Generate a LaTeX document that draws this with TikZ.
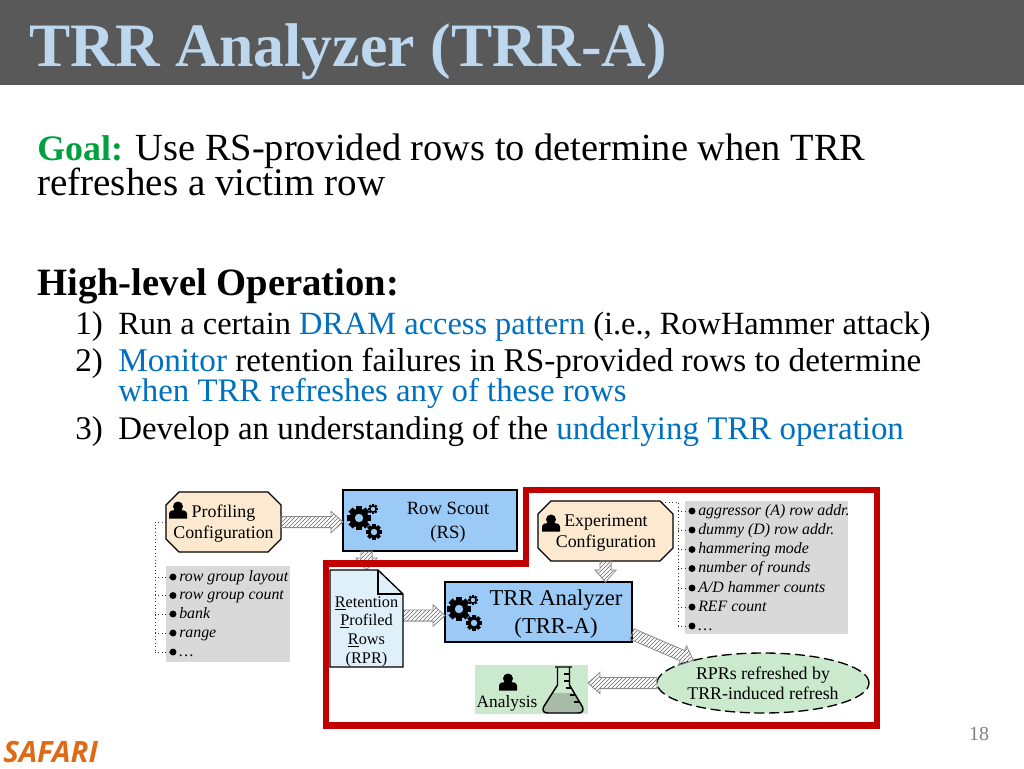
\documentclass[tikz,border=0pt]{standalone}
\usepackage{fontspec}
\setmainfont{Liberation Serif}
\newfontfamily\safarifont{Open Sans}
\usetikzlibrary{calc,patterns,shapes.geometric}
\definecolor{titlebar}{HTML}{595959}
\definecolor{titletext}{HTML}{BDD7EE}
\definecolor{hl}{HTML}{0070C0}
\definecolor{goalgreen}{HTML}{00A03C}
\definecolor{redline}{HTML}{C00000}
\definecolor{peach}{HTML}{FCE9CF}
\definecolor{sky}{HTML}{9CCAF6}
\definecolor{paleblue}{HTML}{DFF0FB}
\definecolor{palegreen}{HTML}{CBE9CC}
\definecolor{listgray}{HTML}{D9D9D9}
\definecolor{orangesaf}{HTML}{DE6A16}
\definecolor{liquid}{HTML}{A8BAA8}
\newcommand\ellip{\ldots}
\tikzset{
  body/.style={anchor=base west,inner sep=0,font=\fontsize{24.8}{28}\selectfont},
  head/.style={anchor=base west,inner sep=0,font=\fontsize{28.8}{30}\selectfont},
  chamf/.style={rectangle,inner sep=0,outer sep=0},
  chamfdraw/.style={draw=black,line width=1pt,fill=peach,line join=round},
  bluebox/.style={rectangle,draw=black,line width=1pt,fill=sky,inner sep=0,outer sep=0},
  listbox/.style={rectangle,fill=listgray,inner sep=0,outer sep=0},
  dot/.style={circle,fill=black,inner sep=0,minimum size=5.2pt},
  lbl/.style={inner sep=0,align=center},
  item/.style={anchor=base west,inner sep=0,font=\fontsize{11.9}{12}\selectfont\itshape},
  hatch/.style={draw=black!45,line width=.6pt,pattern=north east lines,pattern color=black!60},
  dots/.style={dotted,line width=.6pt,black!80}
}
\newcommand\hatcharrow[2]{%
  \coordinate (ta) at (#1);
  \coordinate (tb) at (#2);
  \coordinate (tn) at ($(tb)!9pt!(ta)$);
  \draw[hatch] ($(ta)!4.2pt!90:(tb)$) -- ($(tn)!4.2pt!90:(tb)$) -- ($(tn)!8pt!90:(tb)$) -- (tb)
     -- ($(tn)!8pt!-90:(tb)$) -- ($(tn)!4.2pt!-90:(tb)$) -- ($(ta)!4.2pt!-90:(tb)$) -- cycle;}
\newcommand\chamfer[2]{%
  \draw[chamfdraw] ($(#1.north west)+(#2,0)$) -- ($(#1.north east)+(-#2,0)$) -- ($(#1.north east)+(0,#2)$)
    -- ($(#1.south east)+(0,-#2)$) -- ($(#1.south east)+(-#2,0)$) -- ($(#1.south west)+(#2,0)$)
    -- ($(#1.south west)+(0,-#2)$) -- ($(#1.north west)+(0,#2)$) -- cycle;}
\newcommand\gearicon[5]{\begin{scope}[shift={(#1,#2)}]
  \fill[black] (0,0) circle (#3*.78);
  \foreach \a in {0,45,...,315}{\fill[black,rotate=\a] (-#3*.24,0) rectangle (#3*.24,#3);}
  \fill[#5] (0,0) circle (#4);
\end{scope}}
\newcommand\gears[3]{%
  \gearicon{#1}{#2}{12}{4.2}{#3}
  \gearicon{#1+14}{#2-9}{5}{2.2}{#3}
  \gearicon{#1+15}{#2+14}{7.8}{3.2}{#3}}
\newcommand\personicon[2]{\begin{scope}[shift={(#1,#2)}]
  \fill[black] (0,-3.5) circle (5);
  \fill[black] (-9,8.5) -- (-9,4) .. controls (-9,0.5) and (-5,0) .. (-3,0) -- (3,0) .. controls (5,0) and (9,0.5) .. (9,4) -- (9,8.5) -- cycle;
\end{scope}}
\begin{document}
\begin{tikzpicture}[x=.75pt,y=-.75pt]
\useasboundingbox (0,0) rectangle (1024,768);
\fill[white] (0,0) rectangle (1024,768);
\fill[titlebar] (0,0) rectangle (1024,84.5);
\node[anchor=base west,inner sep=0,text=titletext,font=\fontsize{46.3}{50}\selectfont\bfseries] (title) at (29,66) {TRR Analyzer (TRR-A)};
\node[head] (goal) at (37,160) {\textcolor{goalgreen}{\fontsize{26.9}{30}\selectfont\textbf{Goal:}} Use RS-provided rows to determine when TRR};
\node[head,font=\fontsize{29.3}{30}\selectfont] (goal2) at (37,195) {refreshes a victim row};
\node[head,font=\fontsize{29}{30}\selectfont] (hlo) at (37,295) {\textbf{High-level Operation:}};
\node[body] (n1) at (75,334) {1)};
\node[body,font=\fontsize{24.3}{28}\selectfont] (t1) at (118,334) {Run a certain \textcolor{hl}{DRAM access pattern} (i.e., RowHammer attack)};
\node[body] (n2) at (75,371) {2)};
\node[body,font=\fontsize{24.9}{28}\selectfont] (t2) at (118,371) {\textcolor{hl}{Monitor} retention failures in RS-provided rows to determine};
\node[body,text=hl,font=\fontsize{24.6}{28}\selectfont] (t2b) at (118,401) {when TRR refreshes any of these rows};
\node[body] (n3) at (75,439) {3)};
\node[body,font=\fontsize{24.7}{28}\selectfont] (t3) at (118,439) {Develop an understanding of the \textcolor{hl}{underlying TRR operation}};

% gray lists
\node[listbox,minimum width=93pt,minimum height=72pt] (list1) at (228,614) {};
\node[listbox,minimum width=122.25pt,minimum height=99.75pt] (list2) at (766.5,567.5) {};

% main boxes
\node[chamf,minimum width=86.25pt,minimum height=45pt] (prof) at (223.5,522) {};
\node[bluebox,minimum width=130.5pt,minimum height=45.75pt] (rs) at (430,520.5) {};
\node[bluebox,minimum width=140.25pt,minimum height=45pt] (trra) at (538.5,612) {};
\node[chamf,minimum width=101.25pt,minimum height=45pt] (exp) at (605.5,531) {};
\node[rectangle,fill=palegreen,inner sep=0,outer sep=0,minimum width=84.75pt,minimum height=36.75pt] (ana) at (531.5,689.5) {};
\node[ellipse,draw=black,dash pattern=on 7.5pt off 3.5pt,line width=1pt,fill=palegreen,inner sep=0,outer sep=0,minimum width=159pt,minimum height=45pt] (ell) at (763,683) {};
\node[inner sep=0,outer sep=0,minimum width=54.75pt,minimum height=72.75pt] (rpr) at (366.5,618.5) {};
\chamfer{prof}{13}
\chamfer{exp}{13}

% block arrows
\hatcharrow{prof.east}{prof.east -| rs.west}
\hatcharrow{rs.south -| rpr.north}{rpr.north}
\hatcharrow{$(rpr.east)+(0,-3)$}{$(rpr.east -| trra.west)+(0,-3)$}
\hatcharrow{exp.south}{exp.south |- trra.north}
\hatcharrow{ell.west}{ell.west -| ana.east}
\hatcharrow{$(trra.south east)+(0,-8)$}{ell.162}

% red frame
\draw[redline,line width=4.6pt,line join=miter] (526,490) -- (877,490) -- (877,725.5) -- (326,725.5) -- (326,563.5) -- (526,563.5) -- cycle;

% retention document
\draw[black,line width=1pt,fill=paleblue] (rpr.north west) -- (378,570) -- (403,594) -- (rpr.south east) -- (rpr.south west) -- cycle;
\draw[black,line width=1pt] (378,570) -- (378,594) -- (403,594);

% text in boxes
\node[lbl,font=\fontsize{13.4}{15.75}\selectfont] (proft) at (223.5,524) {Profiling\\Configuration};
\node[lbl,font=\fontsize{14}{15}\selectfont] (rst) at (448,522) {Row Scout\\[3pt](RS)};
\node[lbl,font=\fontsize{17}{21}\selectfont] (trrat) at (556,614) {TRR Analyzer\\(TRR-A)};
\node[lbl,font=\fontsize{13.4}{15.75}\selectfont] (expt) at (606,533) {Experiment\\Configuration};
\node[lbl,font=\fontsize{12.2}{14}\selectfont] (rprt) at (366.5,631.5) {\underline{R}etention\\\underline{P}rofiled\\\underline{R}ows\\(RPR)};
\node[lbl,font=\fontsize{13.4}{15}\selectfont] (ellt) at (763,683) {RPRs refreshed by\\TRR-induced refresh};
\node[lbl,font=\fontsize{13}{15}\selectfont] (anat) at (507,703) {Analysis};

% icons
\personicon{178}{510}
\personicon{551}{523}
\personicon{508}{682}
\gears{359}{518}{sky}
\gears{459}{609}{sky}

% flask
\fill[liquid] (551.5,693) -- (574.5,693) -- (582.5,707) .. controls (584,711) and (582,713) .. (578,713) -- (548,713) .. controls (544,713) and (542,711) .. (543.5,707) -- cycle;
\draw[black,line width=1.1pt,line join=round] (555,667) -- (572,667) (557.5,667) -- (557.5,685) -- (543.5,707) .. controls (542,711) and (544,713) .. (548,713) -- (578,713) .. controls (582,713) and (584,711) .. (582.5,707) -- (569.5,685) -- (569.5,667);
\draw[black,line width=.9pt] (569.5,674) -- (564,674) (569.5,681) -- (564,681) (572,688) -- (566,688) (576,695) -- (570,695) (580,702) -- (574,702);

% list 1
\foreach \n/\yy/\tx in {a/577/{row group layout},b/595.5/{row group count},c/614/{bank},d/633/{range},e/652/{\ellip}}{
  \node[dot] (p\n) at (173,\yy) {};
  \node[item] (q\n) at (179,\yy+4) {\tx};
  \draw[dots] (155,\yy) -- (p\n);
}
\draw[dots] (prof.west) -- (155,522) -- (155,652);

% list 2
\foreach \n/\yy/\tx in {a/511/{aggressor (A) row addr.},b/530/{dummy (D) row addr.},c/549.5/{hammering mode},d/568.5/{number of rounds},e/588/{A/D hammer counts},f/607/{REF count},g/626/{\ellip}}{
  \node[dot] (r\n) at (692,\yy) {};
  \node[item] (s\n) at (698,\yy+4) {\tx};
  \draw[dots] (678,\yy) -- (r\n);
}
\draw[dots] (662,502) -- (678,502) -- (678,626);

\node[anchor=base,inner sep=0,text=black!50,font=\fontsize{15}{18}\selectfont] (pg) at (979,740) {18};
\node[anchor=base west,inner sep=0,text=orangesaf,font=\fontsize{22}{24}\safarifont\bfseries\itshape\selectfont] (saf) at (3,762) {SAFARI};
\end{tikzpicture}
\end{document}
